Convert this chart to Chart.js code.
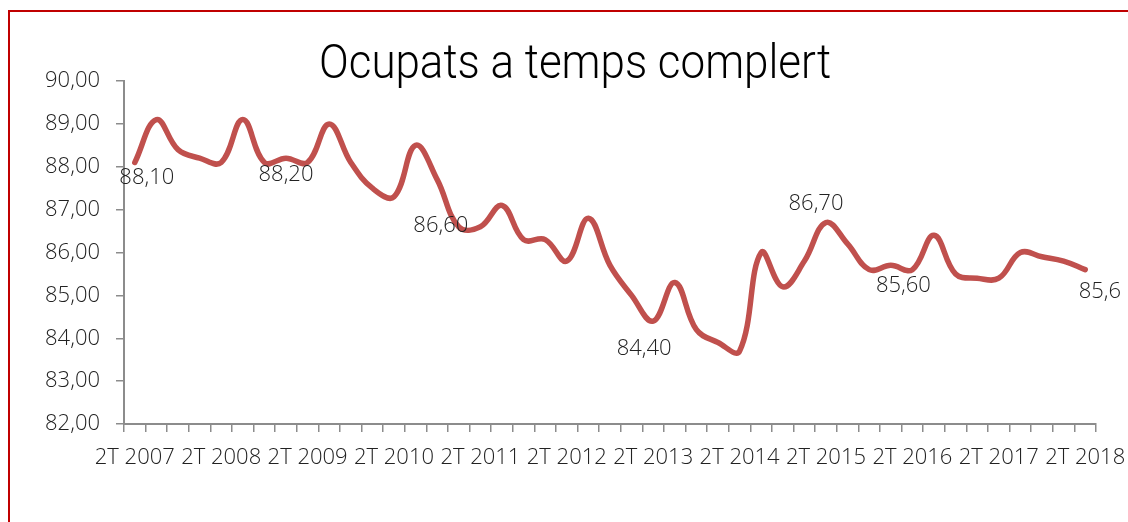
<!DOCTYPE html>
<html>
<head>
<meta charset="utf-8">
<script src="https://cdn.jsdelivr.net/npm/chart.js@4/dist/chart.umd.min.js"></script>
<style>
  html, body { margin: 0; padding: 0; background: #fff; }
  #wrap { position: relative; width: 1128px; height: 522px; overflow: hidden; }
  #frame { position: absolute; left: 8px; top: 10px; width: 1200px; height: 600px;
           border-top: 2px solid #c00000; border-left: 2px solid #c00000; box-sizing: border-box; }
  canvas { position: absolute; left: 0; top: 0; }
</style>
</head>
<body>
<div id="wrap">
  <div id="frame"></div>
  <canvas id="c" width="1128" height="522"></canvas>
</div>
<script>
// Quarterly categories: 2T 2007 ... 2T 2018
const quarters = [];
for (let y = 2007; y <= 2018; y++) {
  for (let q = 1; q <= 4; q++) {
    if ((y === 2007 && q < 2) || (y === 2018 && q > 2)) continue;
    quarters.push(q + 'T ' + y);
  }
}
const seriesTitle = 'Ocupats a temps complert';
const values = [
  88.1, 89.1, 88.4, 88.2, 88.1, 89.1, 88.1, 88.2, 88.1, 89.0,
  88.1, 87.5, 87.3, 88.5, 87.7, 86.6, 86.6, 87.1, 86.3, 86.3,
  85.8, 86.8, 85.7, 85.0, 84.4, 85.3, 84.2, 83.9, 83.7, 86.0,
  85.2, 85.8, 86.7, 86.2, 85.6, 85.7, 85.6, 86.4, 85.5, 85.4,
  85.4, 86.0, 85.9, 85.8, 85.6
];
const labelledPoints = [0, 7, 15, 24, 32, 36, 44];
const yTicks = [82, 83, 84, 85, 86, 87, 88, 89, 90];

const fmt = v => v.toFixed(2).replace('.', ',');
const FONT = '"Open Sans", "Noto Sans", sans-serif';
const TITLE_FONT = 'Roboto, "Open Sans", sans-serif';

// label placement relative to its point (style/position config, not data)
const labelOffsets = {0:[12,15],7:[0,17],15:[-18,-1],24:[-9,28],32:[-10,-19],36:[-9,16],44:[21,22]};

const titlePlugin = {
  id: 'customTitle',
  afterDraw(chart) {
    const ctx = chart.ctx;
    ctx.save();
    ctx.font = '300 48px ' + TITLE_FONT;
    ctx.fillStyle = '#000';
    ctx.textAlign = 'center';
    ctx.textBaseline = 'middle';
    ctx.translate(575, 66);
    ctx.scale(0.915, 1);
    ctx.fillText(seriesTitle, 0, 0);
    ctx.restore();
  }
};

const labelPlugin = {
  id: 'pointLabels',
  afterDatasetsDraw(chart) {
    const ctx = chart.ctx;
    const meta = chart.getDatasetMeta(0);
    ctx.save();
    ctx.beginPath();
    ctx.rect(0, 0, 1122, 522);
    ctx.clip();
    ctx.font = '300 22px ' + FONT;
    ctx.fillStyle = '#222';
    ctx.textAlign = 'center';
    ctx.textBaseline = 'middle';
    labelledPoints.forEach(i => {
      const p = meta.data[i];
      const off = labelOffsets[i] || [0, 16];
      ctx.fillText(fmt(values[i]), p.x + off[0], p.y + off[1]);
    });
    ctx.restore();
  }
};

new Chart(document.getElementById('c'), {
  type: 'line',
  data: {
    labels: quarters,
    datasets: [{
      label: seriesTitle,
      data: values,
      borderColor: '#C0504D',
      borderWidth: 5.5,
      pointRadius: 0,
      tension: 0.4,
      fill: false,
      borderCapStyle: 'round',
      borderJoinStyle: 'round'
    }]
  },
  options: {
    responsive: false,
    animation: false,
    layout: { padding: { left: 0, right: 32, top: 81, bottom: 0 } },
    plugins: { legend: { display: false }, title: { display: false }, tooltip: { enabled: false } },
    scales: {
      x: {
        offset: true,
        grid: { display: true, offset: true, drawOnChartArea: false, drawTicks: true, tickLength: 8, color: '#8c8c8c', lineWidth: 1.5 },
        border: { display: true, color: '#8c8c8c', width: 2 },
        ticks: {
          autoSkip: false, maxRotation: 0, minRotation: 0, padding: 13,
          color: '#222', font: { family: FONT, size: 22, weight: 300 },
          callback: function(v, i) { return i % 4 === 0 ? quarters[i] : ''; }
        },
        afterFit(scale) { scale.height = 98; scale.paddingRight = 0; scale.paddingLeft = 0; }
      },
      y: {
        min: yTicks[0], max: yTicks[yTicks.length - 1],
        grid: { display: true, drawOnChartArea: false, drawTicks: true, tickLength: 8, color: '#8c8c8c', lineWidth: 1.5 },
        border: { display: true, color: '#8c8c8c', width: 2 },
        afterBuildTicks(scale) { scale.ticks = yTicks.map(v => ({ value: v })); },
        ticks: {
          padding: 16, color: '#222', font: { family: FONT, size: 22, weight: 300 },
          callback: v => fmt(v)
        },
        afterFit(scale) { scale.width = 124; }
      }
    }
  },
  plugins: [titlePlugin, labelPlugin]
});
</script>
</body>
</html>
